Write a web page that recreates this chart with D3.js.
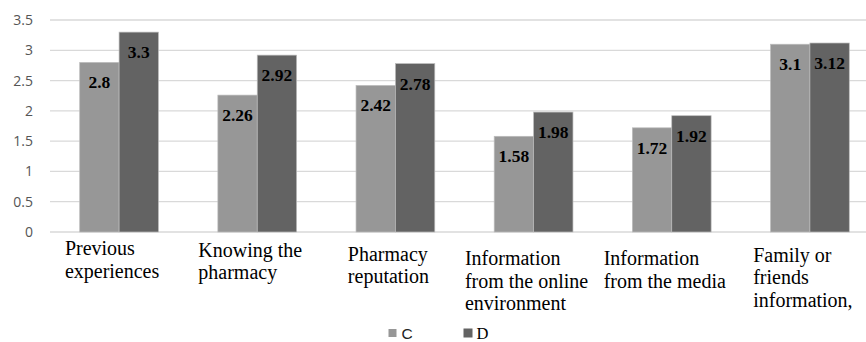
<!DOCTYPE html>
<html>
<head>
<meta charset="utf-8">
<script src="https://cdn.jsdelivr.net/npm/d3@7"></script>
<style>
  html, body { margin: 0; padding: 0; background: #fff; }
  svg { display: block; }
</style>
</head>
<body>
<svg id="chart" width="866" height="342"></svg>
<script>
// Source categories (x-axis groups), each label split into display lines
const categories = [
  "Previous experiences",
  "Knowing the pharmacy",
  "Pharmacy reputation",
  "Information from the online environment",
  "Information from the media",
  "Family or friends information,"
];
const categoryLines = [
  ["Previous", "experiences"],
  ["Knowing the", "pharmacy"],
  ["Pharmacy", "reputation"],
  ["Information", "from the online", "environment"],
  ["Information", "from the media"],
  ["Family or", "friends", "information,"]
];
const seriesNames = ["C", "D"];
const valuesC = [2.8, 2.26, 2.42, 1.58, 1.72, 3.1];
const valuesD = [3.3, 2.92, 2.78, 1.98, 1.92, 3.12];
const yTicks = [0, 0.5, 1, 1.5, 2, 2.5, 3, 3.5];

// Layout
const W = 866, H = 342;
const plot = { left: 50, right: 879, top: 20, bottom: 232 };
const colors = { C: "#979797", D: "#636363" };
// vertical placement of each wrapped category label (first baseline)
const labelFirstBaseline = [255, 256.5, 260.5, 265, 265, 261.5];
const labelLineHeight = 22.5;

const svg = d3.select("#chart");

const y = d3.scaleLinear().domain([0, 3.5]).range([plot.bottom, plot.top]);
const x = d3.scaleBand()
  .domain(categories)
  .range([plot.left, plot.right])
  .paddingInner(0.43)
  .paddingOuter(0.215);
const xs = d3.scaleBand().domain(seriesNames).range([0, x.bandwidth()]);

// Gridlines
svg.append("g")
  .selectAll("line")
  .data(yTicks)
  .join("line")
  .attr("x1", plot.left)
  .attr("x2", plot.right)
  .attr("y1", d => y(d))
  .attr("y2", d => y(d))
  .attr("stroke", "#d9d9d9")
  .attr("stroke-width", 1.3);

// Y axis tick labels
const yAxis = d3.axisLeft(y).tickValues(yTicks).tickFormat(d3.format("~g")).tickSize(0).tickPadding(0);
const yg = svg.append("g").attr("transform", `translate(33,0)`).call(yAxis);
yg.select(".domain").remove();
yg.selectAll("text")
  .attr("fill", "#555")
  .style("font-family", "'Open Sans', sans-serif")
  .style("font-size", "14px");

// Bars
const rows = categories.map((c, i) => ({ cat: c, C: valuesC[i], D: valuesD[i] }));
const groups = svg.append("g")
  .selectAll("g")
  .data(rows)
  .join("g")
  .attr("transform", d => `translate(${x(d.cat)},0)`);

const barData = d => seriesNames.map(s => ({ s, v: d[s] }));

groups.selectAll("rect")
  .data(barData)
  .join("rect")
  .attr("x", d => xs(d.s))
  .attr("width", xs.bandwidth())
  .attr("y", d => y(d.v))
  .attr("height", d => y(0) - y(d.v))
  .attr("fill", d => colors[d.s])
  .attr("stroke", "#bcbcbc")
  .attr("stroke-width", 0.7);

// Value labels inside the top of each bar
groups.selectAll("text.val")
  .data(barData)
  .join("text")
  .attr("class", "val")
  .attr("x", d => xs(d.s) + xs.bandwidth() / 2)
  .attr("y", d => y(d.v) + 26)
  .attr("text-anchor", "middle")
  .attr("fill", "#000")
  .style("font-family", "'Liberation Serif', 'Times New Roman', serif")
  .style("font-weight", "bold")
  .style("font-size", "17.5px")
  .text(d => d3.format("~g")(d.v));

// Category labels: left-aligned lines, block centred under its group
categories.forEach((c, i) => {
  const t = svg.append("text")
    .attr("fill", "#000")
    .style("font-family", "'Liberation Serif', 'Times New Roman', serif")
    .style("font-size", "20px");
  categoryLines[i].forEach((line, k) => {
    t.append("tspan")
      .attr("x", 0)
      .attr("y", labelFirstBaseline[i] + k * labelLineHeight)
      .text(line);
  });
  let maxW = 0;
  t.selectAll("tspan").each(function () {
    maxW = Math.max(maxW, this.getComputedTextLength());
  });
  const cx = x(c) + x.bandwidth() / 2;
  t.attr("transform", `translate(${cx - maxW / 2 - 7},0)`);
});

// Legend
const legend = svg.append("g").attr("transform", "translate(388.5,329)");
legend.append("rect").attr("x", 0).attr("y", 0).attr("width", 8).attr("height", 8).attr("fill", colors.C);
legend.append("text")
  .attr("x", 13).attr("y", 9.5)
  .attr("fill", "#222")
  .style("font-family", "'Liberation Sans', Arial, sans-serif")
  .style("font-size", "15.5px")
  .text("C");
legend.append("rect").attr("x", 75).attr("y", -0.5).attr("width", 9).attr("height", 9).attr("fill", colors.D);
legend.append("text")
  .attr("x", 88).attr("y", 9.5)
  .attr("fill", "#000")
  .style("font-family", "'Liberation Serif', 'Times New Roman', serif")
  .style("font-size", "16.5px")
  .text("D");
</script>
</body>
</html>
